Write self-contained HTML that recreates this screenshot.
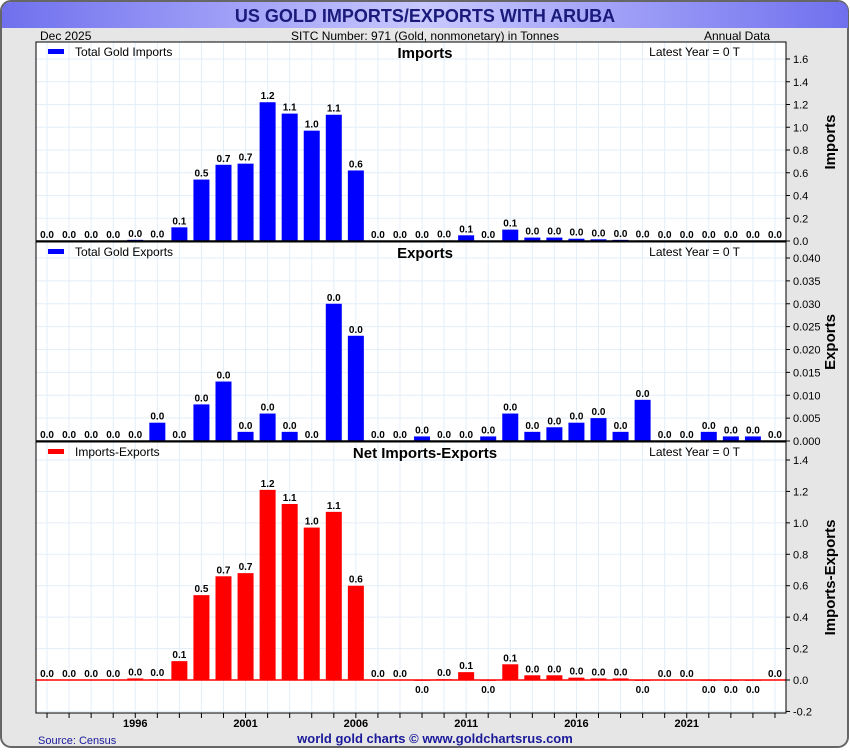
<!DOCTYPE html>
<html><head><meta charset="utf-8"><style>
body{margin:0;background:#fff;}
svg text{font-family:"Liberation Sans",sans-serif;}
</style></head><body>
<svg id="c" width="850" height="750" xmlns="http://www.w3.org/2000/svg">
<defs><linearGradient id="tg" x1="0" x2="1"><stop offset="0" stop-color="#7070ee"/><stop offset="0.5" stop-color="#c8c8ff"/><stop offset="1" stop-color="#7070ee"/></linearGradient></defs>
<rect x="1" y="1" width="847" height="746" rx="10" fill="#e6e6e6" stroke="#666" stroke-width="2"/>
<path d="M2,28 L2,12 Q2,2 12,2 L838,2 Q848,2 848,12 L848,28 Z" fill="url(#tg)"/>
<text x="425" y="22" text-anchor="middle" font-size="18" font-weight="bold" fill="#1a1a7a">US GOLD IMPORTS/EXPORTS WITH ARUBA</text>
<text x="40" y="40" font-size="12">Dec  2025</text>
<text x="425" y="40" font-size="12" text-anchor="middle">SITC Number: 971 (Gold, nonmonetary) in Tonnes</text>
<text x="770" y="40" font-size="12" text-anchor="end">Annual Data</text>
<text x="38" y="744" font-size="11" fill="#1a1a9a">Source: Census</text>
<text x="435" y="743" font-size="13" font-weight="bold" text-anchor="middle" fill="#1a1a9a">world gold charts © www.goldchartsrus.com</text>
<g id="plots"></g>
</svg>
<script>
const years=[1992,1993,1994,1995,1996,1997,1998,1999,2000,2001,2002,2003,2004,2005,2006,2007,2008,2009,2010,2011,2012,2013,2014,2015,2016,2017,2018,2019,2020,2021,2022,2023,2024,2025];
const imports=[0,0,0,0,0.01,0.005,0.12,0.54,0.67,0.68,1.22,1.12,0.97,1.11,0.62,0,0,0,0.005,0.05,0.002,0.1,0.03,0.03,0.02,0.015,0.01,0.005,0,0,0,0,0,0];
const exportsData=[0,0,0,0,0,0.004,0,0.008,0.013,0.002,0.006,0.002,0,0.030,0.023,0,0,0.001,0,0,0.001,0.006,0.002,0.003,0.004,0.005,0.002,0.009,0,0,0.002,0.001,0.001,0];
const net=[0,0,0,0,0.01,0.005,0.12,0.54,0.66,0.68,1.21,1.12,0.97,1.07,0.6,0,0,-0.005,0.005,0.05,-0.005,0.1,0.03,0.03,0.015,0.01,0.01,-0.005,0,0,-0.005,-0.005,-0.005,0];
const impTicks=[0,0.2,0.4,0.6,0.8,1.0,1.2,1.4,1.6];
const expTicks=[0,0.005,0.01,0.015,0.02,0.025,0.03,0.035,0.04];
const netTicks=[-0.2,0,0.2,0.4,0.6,0.8,1.0,1.2,1.4];
const xLabels=[1996,2001,2006,2011,2016,2021];
const NS='http://www.w3.org/2000/svg';
const g=document.getElementById('plots');
const L=36,R=786,bw=750/years.length;
function x(i){return L+(i+0.5)*bw;}
function mk(t,a,p){const e=document.createElementNS(NS,t);for(const k in a)e.setAttribute(k,a[k]);(p||g).appendChild(e);return e;}
function panel(o){
  const y=v=>o.y0+(v-o.vmin)*(o.yv-o.y0)/(o.vmax-o.vmin);
  const bg=mk('rect',{x:L,y:o.top,width:R-L,height:o.bot-o.top,fill:'#fff'});
  
  years.forEach((yr,i)=>{const l=mk('line',{x1:x(i),x2:x(i),y1:o.top,y2:o.bot,stroke:'#e3eef8','stroke-width':1});
    });
  o.ticks.forEach(t=>{const yy=y(t);
    const l=mk('line',{x1:L,x2:R,y1:yy,y2:yy,stroke:'#e3eef8'});
    
    const tk=mk('line',{x1:R,x2:R+4,y1:yy,y2:yy,stroke:'#000'});
    
    const tx=mk('text',{x:R+7,y:yy+4,'font-size':11});tx.textContent=t.toFixed(o.dec);
    });
  const z=y(0);
  o.data.forEach((v,i)=>{
    const top=Math.min(y(v),z),h=Math.abs(y(v)-z);
    const b=mk('rect',{x:x(i)-8,y:top,width:16,height:Math.max(h,0.01),fill:o.color});
    
    const ty=v<0?z+h+12:top-3;
    const t=mk('text',{x:x(i),y:ty,'font-size':10,'font-weight':'bold','text-anchor':'middle'});
    t.textContent=Math.abs(v).toFixed(1);
    });
  const zl=mk('line',{x1:L,x2:R,y1:z,y2:z,stroke:o.zc||'#000','stroke-width':1.5});
  
  const fr=mk('rect',{x:L,y:o.top,width:R-L,height:o.bot-o.top,fill:'none',stroke:'#000','stroke-width':1});
  
  const lg=mk('rect',{x:48,y:o.top+7,width:16,height:5,fill:o.color});
  
  const lt=mk('text',{x:75,y:o.top+14,'font-size':12});lt.textContent=o.legend;
  
  const pt=mk('text',{x:425,y:o.top+16,'font-size':15,'font-weight':'bold','text-anchor':'middle'});pt.textContent=o.title;
  
  const ly=mk('text',{x:740,y:o.top+14,'font-size':12,'text-anchor':'end'});ly.textContent='Latest Year = 0 T';
  
  const cy=(o.top+o.bot)/2;
  const at=mk('text',{x:0,y:0,'font-size':15,'font-weight':'bold','text-anchor':'middle',transform:`translate(835,${cy}) rotate(-90)`});at.textContent=o.axis;
  
}
panel({name:'imports',top:42,bot:242,vmin:0,vmax:1.6,y0:241,yv:59,ticks:impTicks,dec:1,data:imports,color:'#0000ff',legend:'Total Gold Imports',title:'Imports',axis:'Imports'});
panel({name:'exports',top:242,bot:442,vmin:0,vmax:0.04,y0:441,yv:258,ticks:expTicks,dec:3,data:exportsData,color:'#0000ff',legend:'Total Gold Exports',title:'Exports',axis:'Exports'});
panel({name:'net',top:442,bot:713,vmin:0,vmax:1.4,y0:680,yv:460,ticks:netTicks,dec:1,data:net,color:'#ff0000',legend:'Imports-Exports',title:'Net Imports-Exports',axis:'Imports-Exports',zc:'#ff0000'});
years.forEach((yr,i)=>{const t=mk('line',{x1:x(i),x2:x(i),y1:713,y2:718,stroke:'#000'});
  });
xLabels.forEach(yr=>{const i=years.indexOf(yr);
  const t=mk('text',{x:x(i),y:727,'font-size':11,'font-weight':'bold','text-anchor':'middle'});t.textContent=yr;
  });
</script>
</body></html>
